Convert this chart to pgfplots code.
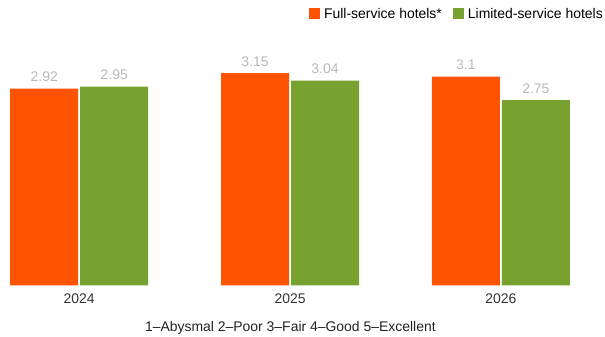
\documentclass[border=0pt]{standalone}
\usepackage{pgfplots}
\pgfplotsset{compat=1.18}
\usepackage{fontspec}
\setmainfont{Liberation Sans}
\definecolor{fullc}{HTML}{FE5300}
\definecolor{limc}{HTML}{77A22F}
\definecolor{vallab}{HTML}{B8B8B8}
\definecolor{tickc}{HTML}{333333}
\definecolor{footc}{HTML}{222222}
\begin{document}
\begin{tikzpicture}
\begin{axis}[
  x=210.85bp, y=67.35bp,
  xmin=-0.3756, xmax=2.4937,
  ymin=0, ymax=4.236,
  scale only axis,
  /pgf/number format/assume math mode=true,
  axis line style={draw=none},
  major tick length=0pt,
  ytick=\empty,
  xtick={0,1,2},
  xticklabels={2024,2025,2026},
  xticklabel style={font=\fontsize{14}{16}\selectfont, text=tickc, anchor=base, inner sep=0pt, yshift=-18bp},
  ybar=2bp, bar width=68bp,
  nodes near coords,
  nodes near coords style={font=\fontsize{14}{16}\selectfont, text=vallab, anchor=base, inner sep=0pt, yshift=7bp},
  legend columns=2,
  legend style={at={(axis description cs:1,1)}, anchor=north east, yshift=-8bp, xshift=-2bp, draw=none, fill=none, inner sep=0pt,
    font=\fontsize{14}{16}\selectfont,
    nodes={inner sep=0pt},
    /tikz/every odd column/.append style={column sep=4bp},
    /tikz/every even column/.append style={column sep=11bp}},
  legend image code/.code={\fill[#1] (0bp,-5bp) rectangle (11bp,6bp);},
  clip=false,
]
\addplot[fill=fullc, draw=none] coordinates {(0,2.92) (1,3.15) (2,3.1)};
\addlegendentry{Full-service hotels*}
\addplot[fill=limc, draw=none] coordinates {(0,2.95) (1,3.04) (2,2.75)};
\addlegendentry{Limited-service hotels}
\node[anchor=base, inner sep=0pt, font=\fontsize{14}{16}\selectfont, text=footc] at (axis description cs:0.48,0) [yshift=-46.7bp] {1–Abysmal 2–Poor 3–Fair 4–Good 5–Excellent};
\end{axis}
\pgfresetboundingbox
\path[use as bounding box] ([yshift=-51.7bp]current axis.south west) rectangle (current axis.north east);
\end{tikzpicture}
\end{document}
